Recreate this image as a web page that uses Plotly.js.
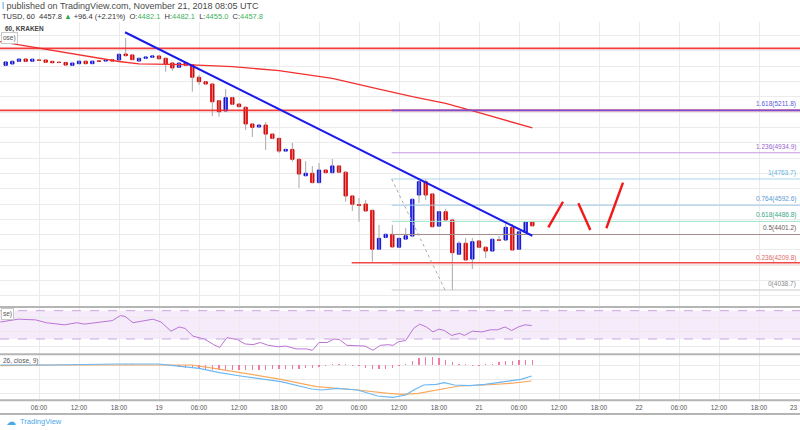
<!DOCTYPE html>
<html><head><meta charset="utf-8">
<script src="https://cdn.plot.ly/plotly-3.0.1.min.js"></script>
<style>html,body{margin:0;padding:0;background:#fff;overflow:hidden}#chart{width:800px;height:430px}</style>
</head><body><div id="chart"></div>
<script>
// ---- data (BTC/USD 60, KRAKEN, hourly candles from 2018-11-18 01:00 UTC) ----
const candleOpen = [5506,5515,5532,5547,5533,5540,5541,5532,5526,5525,
  5506,5517,5533,5517,5534,5534,5543,5541,5580,5574,
  5534,5552,5559,5567,5552,5521,5493,5523,5510,5428,
  5399,5384,5275,5208,5295,5253,5232,5123,5103,5116,
  5057,5029,4946,4957,4892,4785,4801,4740,4822,4805,
  4849,4808,4653,4596,4600,4559,4305,4382,4402,4318,
  4371,4391,4659,4746,4666,4456,4550,4496,4272,4344,
  4241,4359,4318,4293,4366,4365,4448,4305,4415,4482.1];
const candleHigh = [5535,5540,5552,5552,5550,5546,5545,5536,5530,5528,
  5525,5537,5537,5536,5538,5545,5548,5584,5685,5580,
  5556,5564,5571,5571,5556,5525,5527,5528,5514,5443,
  5404,5388,5280,5351,5300,5258,5238,5128,5122,5136,
  5062,5034,4962,5000,4898,4880,4848,4868,4828,4894,
  4855,4813,4658,4640,4627,4564,4463,4408,4463,4380,
  4444,4637,4770,4764,4670,4555,4569,4500,4359,4378,
  4378,4364,4322,4375,4391,4476,4470,4425,4487,4482.1];
const candleLow = [5500,5510,5528,5528,5530,5534,5522,5519,5520,5504,
  5502,5513,5512,5514,5530,5531,5530,5537,5565,5539,
  5530,5548,5555,5545,5464,5471,5488,5500,5334,5378,
  5379,5175,5171,5200,5247,5232,5084,5038,5098,4953,
  5024,4933,4940,4877,4705,4780,4735,4735,4800,4800,
  4803,4615,4555,4485,4550,4224,4300,4377,4315,4313,
  4366,4386,4607,4627,4447,4451,4491,4038.7,4267,4230,
  4176,4313,4248,4288,4358,4360,4295,4300,4410,4455.0];
const candleClose = [5528,5532,5547,5532,5546,5539,5526,5523,5525,5508,
  5521,5533,5517,5533,5533,5541,5534,5578,5569,5543,
  5552,5560,5567,5549,5515,5489,5521,5506,5428,5399,
  5384,5268,5203,5295,5252,5236,5123,5101,5116,5057,
  5029,4946,4957,4892,4796,4801,4740,4822,4805,4849,
  4808,4653,4599,4592,4555,4305,4376,4402,4320,4376,
  4393,4631,4746,4659,4452,4550,4496,4282,4344,4235,
  4354,4318,4293,4370,4364,4448,4300,4419,4482,4457.8];

// MA(100) read at candle hours (hours after 2018-11-18 00:00)
const maHours = [0,6,12,18,21,28,35,42,50,55,57,62,67,72,76,80];
const maValues = [5662,5617,5573,5531,5515,5511,5497,5472,5421,5368,5350,5301,5258,5197,5149,5097];

// horizontal resistance lines and support line
const resistanceLevels = [5617, 5211.8];
const supportLevel = 4217;
const supportStartHour = 52.9;

// Fibonacci extension drawing
const fibRatios = ['1.618','1.236','1','0.764','0.618','0.5','0.236','0'];
const fibPrices = [5211.8, 4934.9, 4763.7, 4592.6, 4486.8, 4401.2, 4209.8, 4038.7];
const fibStartHour = 58.9;
const fibTrendHours = [58.9, 66.9];
const fibTrendPrices = [4763.7, 4038.7];

// bearish trend line
const trendHours = [18.9, 80];
const trendPrices = [5722, 4393];

// projected path (three red strokes)
const projHours = [[82.4, 84.6], [86.9, 88.7], [91.1, 93.6]];
const projPrices = [[4448, 4615], [4605, 4431], [4442, 4740]];

// RSI(14)
const rsiHours = [0.2,2.9,5.5,7.1,9.8,11.7,12.8,15.5,17,18.2,18.9,20.1,23.1,24.3,25.8,27,27.9,29.1,30.8,32.2,33.1,34.2,35.8,36.9,38.1,39.2,40.4,41.9,43,44.6,46.1,47,48,49.2,50.3,51.1,52.2,54.9,56.1,57.2,58.4,59.1,59.9,61,62.2,63.1,64.1,65.1,66,66.8,67.9,69.1,69.8,71,72.5,73.7,74.8,75.9,76.9,77.9,78.9,79.9];
const rsiValues = [54,58,57,53,50,53,51,54,56,63,62,53,58,54,41,47,45,34,30,22,18,32,29,23,22,25,21,19,20,16,16,14,25,25,30,29,21,20,14,21,22,21,26,28,45,51,47,40,44,42,35,38,35,41,40,43,43,47,42,47,50,49];
const rsiBand = [30, 70];

// MACD(12, 26, close, 9)
const macdHours = [0.2,7.9,17.8,23.9,26.2,30,33.1,36.2,42.3,46.9,48.4,50.7,53.8,56.8,59.1,61,62.2,63.7,65.6,66.8,68.3,70.6,72.9,76,78.3,79.9];
const macdValues = [0,0,7,7,-5,-23,-54,-77,-117,-168,-175,-163,-175,-217,-226,-210,-175,-140,-135,-124,-140,-145,-135,-112,-100,-77];
const signalHours = [0.2,7.9,23.2,28.9,32.3,36.2,42.3,47.6,53.8,58.4,60.6,62.9,66,69,72.9,76.7,79.9];
const signalValues = [-5,0,0,0,-23,-54,-100,-152,-175,-198,-205,-198,-170,-147,-140,-128,-112];
const histValues = [1,1,2,2,1,1,0,0,-1,-1,0,0,1,1,1,2,2,
  3,4,4,3,2,1,0,-1,
  -10,-17,-21,-24,-28,-31,-35,-38,-38,-38,-35,-35,-35,-35,-35,-31,-31,-31,-28,-28,
  -24,-21,-14,-4,4,7,4,-4,-10,-21,-28,-31,-28,-21,-10,7,28,49,56,56,
  49,35,21,10,4,-4,-4,4,10,21,28,31,35,35,38];

// axis tick labels every 6 hours from 2018-11-18 00:00
const tickLabels = ['18','06:00','12:00','18:00','19','06:00','12:00','18:00','20','06:00','12:00','18:00','21','06:00','12:00','18:00','22','06:00','12:00','18:00','23'];

// ---- helpers ----
const HOUR = 3600000;
const BASE = Date.UTC(2018, 10, 18, 0, 0, 0);
function t(h) { return new Date(BASE + h * HOUR).toISOString().slice(0, 19).replace('T', ' '); }
const W = 800, Hh = 430;
const px = x => x / W;
const py = y => 1 - y / Hh;

const nC = candleOpen.length;
const cTimes = [], bodyHi = [], bodyLo = [], wickX = [], wickY = [];
for (let i = 0; i < nC; i++) {
  const tm = t(i + 1);
  cTimes.push(tm);
  bodyHi.push(Math.max(candleOpen[i], candleClose[i]));
  bodyLo.push(Math.min(candleOpen[i], candleClose[i]));
  wickX.push(tm, tm, null);
  wickY.push(candleLow[i], candleHigh[i], null);
}
const xRange = [t(0.15), t(120.15)];
const axisLabels = tickLabels.slice(0, tickLabels.length - 1);
const tickVals = axisLabels.map((_, i) => t(i * 6));
const edgeLabel = tickLabels[tickLabels.length - 1];

const traces = [];
traces.push({type: 'scatter', mode: 'lines', x: wickX, y: wickY, xaxis: 'x', yaxis: 'y',
  line: {color: '#a8a8a8', width: 1}, hoverinfo: 'skip'});
traces.push({type: 'candlestick', x: cTimes, open: candleOpen, close: candleClose, high: bodyHi, low: bodyLo,
  xaxis: 'x', yaxis: 'y', whiskerwidth: 0,
  increasing: {line: {color: '#1010e6', width: 1}, fillcolor: '#1414f0'},
  decreasing: {line: {color: '#e60000', width: 1}, fillcolor: '#f00000'}});
traces.push({type: 'scatter', mode: 'lines', x: maHours.map(t), y: maValues, line: {color: '#f23030', width: 1.3}});
resistanceLevels.forEach(v => traces.push({type: 'scatter', mode: 'lines', x: [t(-2), t(125)], y: [v, v],
  line: {color: 'rgba(240,40,40,0.9)', width: 1.6}}));
traces.push({type: 'scatter', mode: 'lines', x: [t(supportStartHour), t(125)], y: [supportLevel, supportLevel],
  line: {color: 'rgba(240,40,40,0.85)', width: 1.6}});
const fibLineColors = ['#7b4fd0', '#c49ae6', '#a9d6ec', '#9fc8e6', '#9fe4c8', '#a48a8a', '#f3a3a3', '#c9c9c9'];
const fibTextColors = ['#5a5ad6', '#9b5fd0', '#5fb4de', '#5b98cf', '#37a886', '#6b5c5c', '#e06a6a', '#8a8a8a'];
fibPrices.forEach((v, i) => traces.push({type: 'scatter', mode: 'lines', x: [t(fibStartHour), t(125)], y: [v, v],
  line: {color: fibLineColors[i], width: i === 0 ? 1.6 : 1}}));
traces.push({type: 'scatter', mode: 'lines', x: fibTrendHours.map(t), y: fibTrendPrices,
  line: {color: '#aaaaaa', width: 1, dash: 'dot'}});
traces.push({type: 'scatter', mode: 'lines', x: trendHours.map(t), y: trendPrices, line: {color: '#1a1aee', width: 2}});
projHours.forEach((hs, i) => traces.push({type: 'scatter', mode: 'lines', x: hs.map(t), y: projPrices[i],
  line: {color: '#f01818', width: 2.4}}));
traces.push({type: 'scatter', mode: 'lines', x: rsiHours.map(t), y: rsiValues, xaxis: 'x', yaxis: 'y2',
  line: {color: '#bb73d6', width: 1}});
traces.push({type: 'bar', x: cTimes, y: histValues, xaxis: 'x', yaxis: 'y3', width: 0.2 * HOUR,
  marker: {color: '#f07aa6', line: {width: 0}}});
traces.push({type: 'scatter', mode: 'lines', x: signalHours.map(t), y: signalValues, xaxis: 'x', yaxis: 'y3',
  line: {color: '#f9a95e', width: 1.2}});
traces.push({type: 'scatter', mode: 'lines', x: macdHours.map(t), y: macdValues, xaxis: 'x', yaxis: 'y3',
  line: {color: '#6cb8f4', width: 1.2}});

const gridC = '#ebebeb';
const font = 'Liberation Sans, Arial, DejaVu Sans, sans-serif';
const annotations = [];
fibPrices.forEach((v, i) => annotations.push({xref: 'paper', yref: 'y', x: px(798), y: v, xanchor: 'right', yanchor: 'bottom',
  yshift: 0, showarrow: false, text: fibRatios[i] + '(' + v.toFixed(1) + ')', font: {family: font, size: 6.5, color: fibTextColors[i]}}));
annotations.push({xref: 'paper', yref: 'paper', x: px(0), y: py(5.5), xanchor: 'left', yanchor: 'middle', showarrow: false,
  text: '<span style="color:#3a8fd8">l</span> published on TradingView.com, November 21, 2018 08:05 UTC',
  font: {family: font, size: 9, color: '#4a4a4a'}});
annotations.push({xref: 'paper', yref: 'paper', x: px(0), y: py(16.5), xanchor: 'left', yanchor: 'middle', showarrow: false,
  text: 'TUSD, 60  4457.8 <span style="color:#2eaa4e">▲</span> +96.4 (+2.21%)  O:<span style="color:#3cb35a">4482.1</span>  H:<span style="color:#3cb35a">4482.1</span>  L:<span style="color:#3cb35a">4455.0</span>  C:<span style="color:#3cb35a">4457.8</span>',
  font: {family: font, size: 7.5, color: '#333333'}});
annotations.push({xref: 'paper', yref: 'paper', x: px(3), y: py(29), xanchor: 'left', yanchor: 'middle', showarrow: false,
  text: '<b>60, KRAKEN</b>', font: {family: font, size: 6.5, color: '#444'}});
annotations.push({xref: 'paper', yref: 'paper', x: px(1), y: py(38.5), xanchor: 'left', yanchor: 'middle', showarrow: false,
  text: 'ose)', font: {family: font, size: 6.5, color: '#555'}, bordercolor: '#c8c8c8', borderwidth: 1, borderpad: 1, bgcolor: '#fff'});
annotations.push({xref: 'paper', yref: 'paper', x: px(1), y: py(313.5), xanchor: 'left', yanchor: 'middle', showarrow: false,
  text: 'se)', font: {family: font, size: 6.5, color: '#555'}, bordercolor: '#c8c8c8', borderwidth: 1, borderpad: 1, bgcolor: '#fff'});
annotations.push({xref: 'paper', yref: 'paper', x: px(1), y: py(361), xanchor: 'left', yanchor: 'middle', showarrow: false,
  text: '26, close, 9)', font: {family: font, size: 6.5, color: '#555'}});
annotations.push({xref: 'paper', yref: 'paper', x: px(799.5), y: py(407.5), xanchor: 'right', yanchor: 'middle', showarrow: false,
  text: edgeLabel, font: {family: font, size: 6.5, color: '#555'}});
annotations.push({xref: 'paper', yref: 'paper', x: px(4), y: py(421.5), xanchor: 'left', yanchor: 'middle', showarrow: false,
  text: '☁', font: {family: 'DejaVu Sans', size: 10, color: '#4aa8e8'}});
annotations.push({xref: 'paper', yref: 'paper', x: px(18), y: py(421.5), xanchor: 'left', yanchor: 'middle', showarrow: false,
  text: 'TradingView', font: {family: font, size: 7.5, color: '#4aa8e8'}});

const shapes = [
  {type: 'rect', xref: 'paper', x0: 0, x1: 1, yref: 'y2', y0: rsiBand[0], y1: rsiBand[1], fillcolor: 'rgba(170,90,220,0.12)', line: {width: 0}, layer: 'below'},
  {type: 'line', xref: 'paper', x0: 0, x1: 1, yref: 'y2', y0: rsiBand[0], y1: rsiBand[0], line: {color: '#c9a6dc', width: 1, dash: 'dash'}},
  {type: 'line', xref: 'paper', x0: 0, x1: 1, yref: 'y2', y0: rsiBand[1], y1: rsiBand[1], line: {color: '#c9a6dc', width: 1, dash: 'dash'}}
];
[306.9, 354.3, 400.3, 414].forEach(y => shapes.push({type: 'line', xref: 'paper', yref: 'paper', x0: 0, x1: 1,
  y0: py(y), y1: py(y), line: {color: '#b5b5b5', width: 2}}));

const baseY = {showticklabels: false, zeroline: false, showline: false, gridcolor: gridC, fixedrange: true, tick0: 0};
const layout = {
  width: W, height: Hh, margin: {l: 0, r: 0, t: 0, b: 0}, paper_bgcolor: '#ffffff', plot_bgcolor: '#ffffff',
  showlegend: false, hovermode: false, dragmode: false,
  xaxis: {type: 'date', range: xRange, anchor: 'y3', tickvals: tickVals, ticktext: axisLabels, showgrid: true, gridcolor: gridC,
    ticks: '', showline: false, zeroline: false, tickfont: {family: font, size: 6.5, color: '#555'},
    rangeslider: {visible: false}, fixedrange: true, ticklabelstandoff: 2},
  yaxis: Object.assign({domain: [py(306.7), py(22)], range: [3929.6, 5789.0], dtick: 100}, baseY),
  yaxis2: Object.assign({domain: [py(353.5), py(307.5)], range: [9.5, 74.5], dtick: 20}, baseY),
  yaxis3: Object.assign({domain: [py(400), py(355)], range: [-245, 70], dtick: 100}, baseY),
  annotations: annotations, shapes: shapes, bargap: 0
};
Plotly.newPlot('chart', traces, layout, {staticPlot: true, displayModeBar: false});
</script></body></html>
